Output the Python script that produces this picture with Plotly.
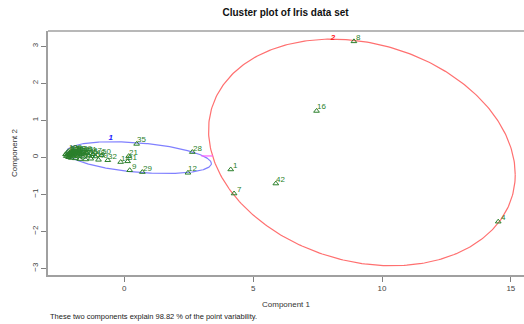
import numpy as np
import plotly.graph_objects as go

# ---- data ----
blob_labels = [2, 3, 5, 6, 10, 11, 13, 15, 17, 18, 19, 20, 22, 23, 24, 25, 26, 27,
               30, 33, 34, 36, 37, 38, 39, 40, 41, 43, 44, 45, 46, 47, 48, 49, 50]
blob_x = [-2.28, -2.25, -2.22, -2.20, -2.18, -2.16, -2.14, -2.12, -2.10, -2.08, -2.06,
          -2.04, -2.02, -2.00, -1.98, -1.95, -1.92, -1.90, -1.87, -1.84, -1.80, -1.76,
          -1.72, -1.68, -1.64, -1.60, -1.55, -1.50, -1.45, -1.38, -1.30, -1.22, -1.12,
          -1.00, -0.88]
blob_y = [0.08, 0.03, 0.12, 0.06, 0.15, 0.00, 0.10, 0.04, 0.14, 0.08, -0.02,
          0.11, 0.05, 0.16, 0.02, 0.09, 0.13, -0.03, 0.07, 0.12, 0.03, 0.10,
          -0.05, 0.08, 0.13, 0.01, 0.09, -0.06, 0.11, 0.04, -0.04, 0.08, 0.02,
          -0.07, 0.05]

c1_labels = [32, 14, 31, 21, 9, 29, 35, 28, 12]
c1_x = [-0.64, -0.14, 0.13, 0.17, 0.21, 0.70, 0.48, 2.64, 2.47]
c1_y = [-0.08, -0.13, -0.11, 0.03, -0.35, -0.40, 0.36, 0.14, -0.42]

c2_labels = [8, 16, 4, 42, 1, 7]
c2_x = [8.91, 7.46, 14.51, 5.88, 4.13, 4.26]
c2_y = [3.13, 1.25, -1.74, -0.71, -0.33, -0.98]

# ellipse parameters: centre, x-radius, y-radius, phase shift
ell1 = dict(cx=0.57, cy=-0.01, rx=2.81, ry=0.43, dphi=np.arccos(-0.37))
ell2 = dict(cx=9.22, cy=0.13, rx=5.95, ry=3.06, dphi=np.arccos(-0.196))

cluster_names = ["1", "2"]
cluster_label_x = [-0.53, 8.10]
cluster_label_y = [0.52, 3.23]

link_x = [2.99, 3.44]
link_y = [0.035, 0.035]

x_ticks = [0, 5, 10, 15]
y_ticks = [-3, -2, -1, 0, 1, 2, 3]

FONT = "Liberation Sans, Arial, sans-serif"
GREEN = "#2a7f2a"

# ---- figure ----
fig = go.Figure()

t = np.linspace(0, 2 * np.pi, 361)
for e, col in [(ell1, "#8080ff"), (ell2, "#ff7070")]:
    ex = e["cx"] + e["rx"] * np.cos(t)
    ey = e["cy"] + e["ry"] * np.cos(t - e["dphi"])
    fig.add_trace(go.Scatter(x=ex, y=ey, mode="lines",
                             line=dict(color=col, width=1.2), hoverinfo="skip"))

fig.add_trace(go.Scatter(x=link_x, y=link_y, mode="lines",
                         line=dict(color="#ff60ff", width=1.2)))

all_x = blob_x + c1_x + c2_x
all_y = blob_y + c1_y + c2_y
all_lab = [str(v) for v in blob_labels + c1_labels + c2_labels]
fig.add_trace(go.Scatter(
    x=all_x, y=all_y, mode="markers", cliponaxis=False,
    marker=dict(symbol="triangle-up-open", size=5, color=GREEN,
                line=dict(width=1, color=GREEN)),
))

fig.add_trace(go.Scatter(
    x=cluster_label_x, y=cluster_label_y, mode="text", text=cluster_names,
    cliponaxis=False,
    textfont=dict(family=FONT, size=8, color=["#2020ff", "#ff2020"],
                  weight="bold", style="italic"),
))

point_labels = [dict(x=px, y=py, text=lab, xref="x", yref="y", showarrow=False,
                     xanchor="center", yanchor="middle", xshift=5, yshift=4,
                     font=dict(family=FONT, size=8, color=GREEN))
                for px, py, lab in zip(all_x, all_y, all_lab)]

axis_common = dict(
    showgrid=False, zeroline=False, showline=True, linecolor="#a0a0a0",
    linewidth=1.5, ticks="outside", ticklen=5, tickcolor="#808080",
    tickfont=dict(family=FONT, size=8, color="#444"),
)

fig.update_layout(
    width=524, height=324,
    margin=dict(l=48, r=0, t=31, b=49),
    paper_bgcolor="white", plot_bgcolor="white",
    showlegend=False,
    title=dict(text="<b>Cluster plot of Iris data set</b>", x=0.545, xanchor="center",
               y=0.962, yanchor="middle",
               font=dict(family=FONT, size=10, color="#111")),
    xaxis=dict(range=[-2.96, 15.51], tickvals=x_ticks,
               title=dict(text="Component 1", standoff=9,
                          font=dict(family=FONT, size=8, color="#333")),
               **axis_common),
    yaxis=dict(range=[-3.18, 3.41], tickvals=y_ticks, tickangle=-90,
               title=dict(text="Component 2", standoff=12,
                          font=dict(family=FONT, size=8, color="#333")),
               **axis_common),
    shapes=[dict(type="line", xref="paper", yref="paper", x0=0, x1=1, y0=1, y1=1,
                 line=dict(color="#a0a0a0", width=1.5))],
    annotations=point_labels + [
        dict(text="These two components explain 98.82 % of the point variability.",
             xref="paper", yref="paper", x=0, y=-0.172, xanchor="left",
             yanchor="middle", showarrow=False,
             font=dict(family=FONT, size=7.5, color="#222"))],
)

fig.write_html("out.html", config={"displayModeBar": False},
               post_script="document.body.style.margin='0';document.body.style.padding='0';")
